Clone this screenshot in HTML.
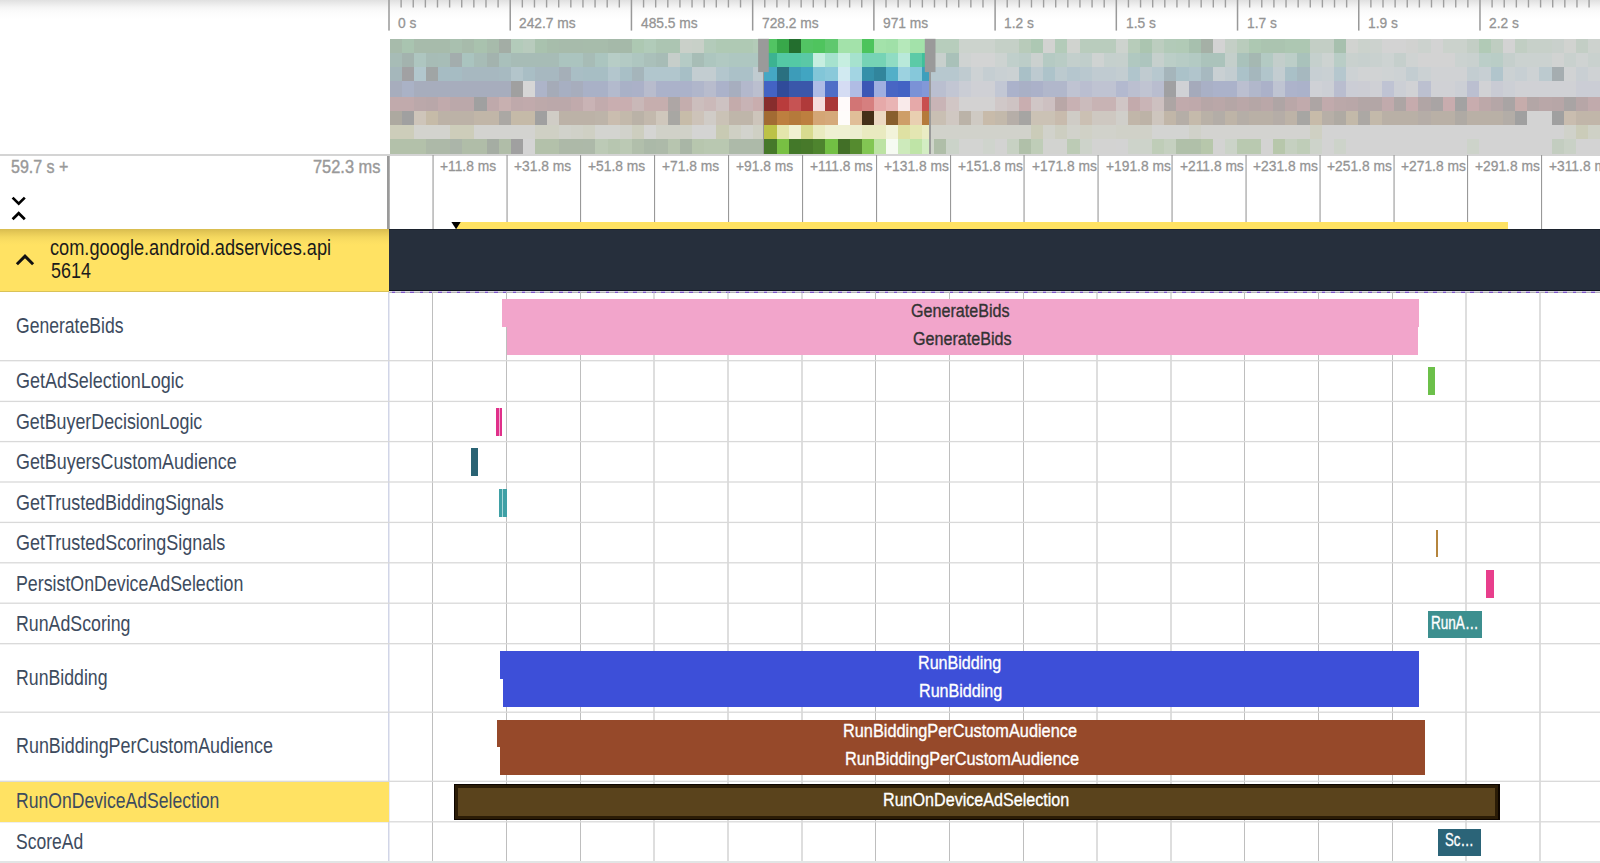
<!DOCTYPE html>
<html lang="en"><head><meta charset="utf-8"><title>Perfetto UI</title>
<style>
html,body{margin:0;padding:0;background:#fff;}
body{width:1600px;height:863px;overflow:hidden;position:relative;font-family:"Liberation Sans",sans-serif;}
.t{position:absolute;white-space:nowrap;transform-origin:0 0;}
.a{position:absolute;}
</style></head><body>

<div class="a" style="left:0;top:0;width:1600px;height:20px;background:linear-gradient(#e0e0e0 0,#ebebeb 3.75px,#f5f5f5 7.5px,#fafafa 11px,#fdfdfd 15px,#fff 20px);"></div>
<div class="a" id="overview-axis" style="left:0;top:0;width:1600px;height:39px;">
<svg class="a" style="left:0;top:0;" width="1600" height="39" viewBox="0 0 1600 39">
<rect x="388.25" y="0" width="1.5" height="30.6" fill="#999"/>
<rect x="400.42" y="0" width="1.4" height="7.5" fill="#9e9e9e"/>
<rect x="412.54" y="0" width="1.4" height="7.5" fill="#9e9e9e"/>
<rect x="424.67" y="0" width="1.4" height="7.5" fill="#9e9e9e"/>
<rect x="436.79" y="0" width="1.4" height="7.5" fill="#9e9e9e"/>
<rect x="448.91" y="0" width="1.4" height="7.5" fill="#9e9e9e"/>
<rect x="461.03" y="0" width="1.4" height="7.5" fill="#9e9e9e"/>
<rect x="473.15" y="0" width="1.4" height="7.5" fill="#9e9e9e"/>
<rect x="485.28" y="0" width="1.4" height="7.5" fill="#9e9e9e"/>
<rect x="497.40" y="0" width="1.4" height="7.5" fill="#9e9e9e"/>
<rect x="509.47" y="0" width="1.5" height="30.6" fill="#999"/>
<rect x="521.64" y="0" width="1.4" height="7.5" fill="#9e9e9e"/>
<rect x="533.76" y="0" width="1.4" height="7.5" fill="#9e9e9e"/>
<rect x="545.89" y="0" width="1.4" height="7.5" fill="#9e9e9e"/>
<rect x="558.01" y="0" width="1.4" height="7.5" fill="#9e9e9e"/>
<rect x="570.13" y="0" width="1.4" height="7.5" fill="#9e9e9e"/>
<rect x="582.25" y="0" width="1.4" height="7.5" fill="#9e9e9e"/>
<rect x="594.37" y="0" width="1.4" height="7.5" fill="#9e9e9e"/>
<rect x="606.50" y="0" width="1.4" height="7.5" fill="#9e9e9e"/>
<rect x="618.62" y="0" width="1.4" height="7.5" fill="#9e9e9e"/>
<rect x="630.69" y="0" width="1.5" height="30.6" fill="#999"/>
<rect x="642.86" y="0" width="1.4" height="7.5" fill="#9e9e9e"/>
<rect x="654.98" y="0" width="1.4" height="7.5" fill="#9e9e9e"/>
<rect x="667.11" y="0" width="1.4" height="7.5" fill="#9e9e9e"/>
<rect x="679.23" y="0" width="1.4" height="7.5" fill="#9e9e9e"/>
<rect x="691.35" y="0" width="1.4" height="7.5" fill="#9e9e9e"/>
<rect x="703.47" y="0" width="1.4" height="7.5" fill="#9e9e9e"/>
<rect x="715.59" y="0" width="1.4" height="7.5" fill="#9e9e9e"/>
<rect x="727.72" y="0" width="1.4" height="7.5" fill="#9e9e9e"/>
<rect x="739.84" y="0" width="1.4" height="7.5" fill="#9e9e9e"/>
<rect x="751.91" y="0" width="1.5" height="30.6" fill="#999"/>
<rect x="764.08" y="0" width="1.4" height="7.5" fill="#9e9e9e"/>
<rect x="776.20" y="0" width="1.4" height="7.5" fill="#9e9e9e"/>
<rect x="788.33" y="0" width="1.4" height="7.5" fill="#9e9e9e"/>
<rect x="800.45" y="0" width="1.4" height="7.5" fill="#9e9e9e"/>
<rect x="812.57" y="0" width="1.4" height="7.5" fill="#9e9e9e"/>
<rect x="824.69" y="0" width="1.4" height="7.5" fill="#9e9e9e"/>
<rect x="836.81" y="0" width="1.4" height="7.5" fill="#9e9e9e"/>
<rect x="848.94" y="0" width="1.4" height="7.5" fill="#9e9e9e"/>
<rect x="861.06" y="0" width="1.4" height="7.5" fill="#9e9e9e"/>
<rect x="873.13" y="0" width="1.5" height="30.6" fill="#999"/>
<rect x="885.30" y="0" width="1.4" height="7.5" fill="#9e9e9e"/>
<rect x="897.42" y="0" width="1.4" height="7.5" fill="#9e9e9e"/>
<rect x="909.55" y="0" width="1.4" height="7.5" fill="#9e9e9e"/>
<rect x="921.67" y="0" width="1.4" height="7.5" fill="#9e9e9e"/>
<rect x="933.79" y="0" width="1.4" height="7.5" fill="#9e9e9e"/>
<rect x="945.91" y="0" width="1.4" height="7.5" fill="#9e9e9e"/>
<rect x="958.03" y="0" width="1.4" height="7.5" fill="#9e9e9e"/>
<rect x="970.16" y="0" width="1.4" height="7.5" fill="#9e9e9e"/>
<rect x="982.28" y="0" width="1.4" height="7.5" fill="#9e9e9e"/>
<rect x="994.35" y="0" width="1.5" height="30.6" fill="#999"/>
<rect x="1006.52" y="0" width="1.4" height="7.5" fill="#9e9e9e"/>
<rect x="1018.64" y="0" width="1.4" height="7.5" fill="#9e9e9e"/>
<rect x="1030.77" y="0" width="1.4" height="7.5" fill="#9e9e9e"/>
<rect x="1042.89" y="0" width="1.4" height="7.5" fill="#9e9e9e"/>
<rect x="1055.01" y="0" width="1.4" height="7.5" fill="#9e9e9e"/>
<rect x="1067.13" y="0" width="1.4" height="7.5" fill="#9e9e9e"/>
<rect x="1079.25" y="0" width="1.4" height="7.5" fill="#9e9e9e"/>
<rect x="1091.38" y="0" width="1.4" height="7.5" fill="#9e9e9e"/>
<rect x="1103.50" y="0" width="1.4" height="7.5" fill="#9e9e9e"/>
<rect x="1115.57" y="0" width="1.5" height="30.6" fill="#999"/>
<rect x="1127.74" y="0" width="1.4" height="7.5" fill="#9e9e9e"/>
<rect x="1139.86" y="0" width="1.4" height="7.5" fill="#9e9e9e"/>
<rect x="1151.99" y="0" width="1.4" height="7.5" fill="#9e9e9e"/>
<rect x="1164.11" y="0" width="1.4" height="7.5" fill="#9e9e9e"/>
<rect x="1176.23" y="0" width="1.4" height="7.5" fill="#9e9e9e"/>
<rect x="1188.35" y="0" width="1.4" height="7.5" fill="#9e9e9e"/>
<rect x="1200.47" y="0" width="1.4" height="7.5" fill="#9e9e9e"/>
<rect x="1212.60" y="0" width="1.4" height="7.5" fill="#9e9e9e"/>
<rect x="1224.72" y="0" width="1.4" height="7.5" fill="#9e9e9e"/>
<rect x="1236.79" y="0" width="1.5" height="30.6" fill="#999"/>
<rect x="1248.96" y="0" width="1.4" height="7.5" fill="#9e9e9e"/>
<rect x="1261.08" y="0" width="1.4" height="7.5" fill="#9e9e9e"/>
<rect x="1273.21" y="0" width="1.4" height="7.5" fill="#9e9e9e"/>
<rect x="1285.33" y="0" width="1.4" height="7.5" fill="#9e9e9e"/>
<rect x="1297.45" y="0" width="1.4" height="7.5" fill="#9e9e9e"/>
<rect x="1309.57" y="0" width="1.4" height="7.5" fill="#9e9e9e"/>
<rect x="1321.69" y="0" width="1.4" height="7.5" fill="#9e9e9e"/>
<rect x="1333.82" y="0" width="1.4" height="7.5" fill="#9e9e9e"/>
<rect x="1345.94" y="0" width="1.4" height="7.5" fill="#9e9e9e"/>
<rect x="1358.01" y="0" width="1.5" height="30.6" fill="#999"/>
<rect x="1370.18" y="0" width="1.4" height="7.5" fill="#9e9e9e"/>
<rect x="1382.30" y="0" width="1.4" height="7.5" fill="#9e9e9e"/>
<rect x="1394.43" y="0" width="1.4" height="7.5" fill="#9e9e9e"/>
<rect x="1406.55" y="0" width="1.4" height="7.5" fill="#9e9e9e"/>
<rect x="1418.67" y="0" width="1.4" height="7.5" fill="#9e9e9e"/>
<rect x="1430.79" y="0" width="1.4" height="7.5" fill="#9e9e9e"/>
<rect x="1442.91" y="0" width="1.4" height="7.5" fill="#9e9e9e"/>
<rect x="1455.04" y="0" width="1.4" height="7.5" fill="#9e9e9e"/>
<rect x="1467.16" y="0" width="1.4" height="7.5" fill="#9e9e9e"/>
<rect x="1479.23" y="0" width="1.5" height="30.6" fill="#999"/>
<rect x="1491.40" y="0" width="1.4" height="7.5" fill="#9e9e9e"/>
<rect x="1503.52" y="0" width="1.4" height="7.5" fill="#9e9e9e"/>
<rect x="1515.65" y="0" width="1.4" height="7.5" fill="#9e9e9e"/>
<rect x="1527.77" y="0" width="1.4" height="7.5" fill="#9e9e9e"/>
<rect x="1539.89" y="0" width="1.4" height="7.5" fill="#9e9e9e"/>
<rect x="1552.01" y="0" width="1.4" height="7.5" fill="#9e9e9e"/>
<rect x="1564.13" y="0" width="1.4" height="7.5" fill="#9e9e9e"/>
<rect x="1576.26" y="0" width="1.4" height="7.5" fill="#9e9e9e"/>
<rect x="1588.38" y="0" width="1.4" height="7.5" fill="#9e9e9e"/>
</svg>
<div class="t" style="left:398.20px;top:15.02px;font-size:15.22px;line-height:15.22px;color:#949494;transform:scaleX(0.9050);-webkit-text-stroke:0.3px #949494;">0 s</div>
<div class="t" style="left:519.42px;top:15.02px;font-size:15.22px;line-height:15.22px;color:#949494;transform:scaleX(0.9050);-webkit-text-stroke:0.3px #949494;">242.7 ms</div>
<div class="t" style="left:640.64px;top:15.02px;font-size:15.22px;line-height:15.22px;color:#949494;transform:scaleX(0.9050);-webkit-text-stroke:0.3px #949494;">485.5 ms</div>
<div class="t" style="left:761.86px;top:15.02px;font-size:15.22px;line-height:15.22px;color:#949494;transform:scaleX(0.9050);-webkit-text-stroke:0.3px #949494;">728.2 ms</div>
<div class="t" style="left:883.08px;top:15.02px;font-size:15.22px;line-height:15.22px;color:#949494;transform:scaleX(0.9050);-webkit-text-stroke:0.3px #949494;">971 ms</div>
<div class="t" style="left:1004.30px;top:15.02px;font-size:15.22px;line-height:15.22px;color:#949494;transform:scaleX(0.9050);-webkit-text-stroke:0.3px #949494;">1.2 s</div>
<div class="t" style="left:1125.52px;top:15.02px;font-size:15.22px;line-height:15.22px;color:#949494;transform:scaleX(0.9050);-webkit-text-stroke:0.3px #949494;">1.5 s</div>
<div class="t" style="left:1246.74px;top:15.02px;font-size:15.22px;line-height:15.22px;color:#949494;transform:scaleX(0.9050);-webkit-text-stroke:0.3px #949494;">1.7 s</div>
<div class="t" style="left:1367.96px;top:15.02px;font-size:15.22px;line-height:15.22px;color:#949494;transform:scaleX(0.9050);-webkit-text-stroke:0.3px #949494;">1.9 s</div>
<div class="t" style="left:1489.18px;top:15.02px;font-size:15.22px;line-height:15.22px;color:#949494;transform:scaleX(0.9050);-webkit-text-stroke:0.3px #949494;">2.2 s</div>
</div>
<svg class="a" id="minimap" style="left:0;top:0;" width="1600" height="160" viewBox="0 0 1600 160" shape-rendering="crispEdges">
<rect x="389.70" y="38.8" width="12.15" height="14.25" fill="#a7bbab"/>
<rect x="401.80" y="38.8" width="12.15" height="14.25" fill="#a9c4b0"/>
<rect x="413.91" y="38.8" width="36.36" height="14.25" fill="#a7bbab"/>
<rect x="450.21" y="38.8" width="12.15" height="14.25" fill="#a9c0af"/>
<rect x="462.32" y="38.8" width="12.15" height="14.25" fill="#a7bbab"/>
<rect x="474.42" y="38.8" width="12.15" height="14.25" fill="#a9c2ae"/>
<rect x="486.52" y="38.8" width="12.15" height="14.25" fill="#a7bbab"/>
<rect x="498.63" y="38.8" width="12.15" height="14.25" fill="#a3ada5"/>
<rect x="510.73" y="38.8" width="12.15" height="14.25" fill="#b3cbba"/>
<rect x="522.83" y="38.8" width="12.15" height="14.25" fill="#b8cbbd"/>
<rect x="534.94" y="38.8" width="12.15" height="14.25" fill="#a9c2ae"/>
<rect x="547.04" y="38.8" width="12.15" height="14.25" fill="#a7bdab"/>
<rect x="559.14" y="38.8" width="24.26" height="14.25" fill="#a7bbab"/>
<rect x="583.35" y="38.8" width="24.26" height="14.25" fill="#a7bcab"/>
<rect x="607.55" y="38.8" width="24.26" height="14.25" fill="#a5b9a9"/>
<rect x="631.76" y="38.8" width="12.15" height="14.25" fill="#adc8b2"/>
<rect x="643.86" y="38.8" width="12.15" height="14.25" fill="#b1cbb9"/>
<rect x="655.97" y="38.8" width="24.26" height="14.25" fill="#acc5b2"/>
<rect x="680.17" y="38.8" width="12.15" height="14.25" fill="#cad0c9"/>
<rect x="692.27" y="38.8" width="12.15" height="14.25" fill="#c8d0c8"/>
<rect x="704.38" y="38.8" width="12.15" height="14.25" fill="#b3cbba"/>
<rect x="716.48" y="38.8" width="36.36" height="14.25" fill="#afc9b4"/>
<rect x="752.79" y="38.8" width="11.26" height="14.25" fill="#b3cbb8"/>
<rect x="764.00" y="38.8" width="13.05" height="14.25" fill="#52c463"/>
<rect x="777.00" y="38.8" width="12.15" height="14.25" fill="#38a84a"/>
<rect x="789.10" y="38.8" width="12.15" height="14.25" fill="#236e2e"/>
<rect x="801.20" y="38.8" width="12.15" height="14.25" fill="#52c463"/>
<rect x="813.31" y="38.8" width="12.15" height="14.25" fill="#4fc45e"/>
<rect x="825.41" y="38.8" width="12.15" height="14.25" fill="#5fc86e"/>
<rect x="837.51" y="38.8" width="24.26" height="14.25" fill="#a3e2aa"/>
<rect x="861.72" y="38.8" width="12.15" height="14.25" fill="#4cc45c"/>
<rect x="873.82" y="38.8" width="12.15" height="14.25" fill="#a3e2aa"/>
<rect x="885.92" y="38.8" width="12.15" height="14.25" fill="#a0e0a8"/>
<rect x="898.03" y="38.8" width="12.15" height="14.25" fill="#b5e8ba"/>
<rect x="910.13" y="38.8" width="20.12" height="14.25" fill="#a3e2aa"/>
<rect x="930.20" y="38.8" width="28.39" height="14.25" fill="#b7cdbc"/>
<rect x="958.54" y="38.8" width="36.36" height="14.25" fill="#ccd3cd"/>
<rect x="994.85" y="38.8" width="24.26" height="14.25" fill="#c5d0c7"/>
<rect x="1019.06" y="38.8" width="12.15" height="14.25" fill="#b8cbba"/>
<rect x="1031.16" y="38.8" width="12.15" height="14.25" fill="#adc8b3"/>
<rect x="1043.26" y="38.8" width="12.15" height="14.25" fill="#d2d3d1"/>
<rect x="1055.37" y="38.8" width="12.15" height="14.25" fill="#b3cbb9"/>
<rect x="1067.47" y="38.8" width="12.15" height="14.25" fill="#d0d3cf"/>
<rect x="1079.57" y="38.8" width="36.36" height="14.25" fill="#b9ccbd"/>
<rect x="1115.88" y="38.8" width="12.15" height="14.25" fill="#cdd3ce"/>
<rect x="1127.98" y="38.8" width="12.15" height="14.25" fill="#b7ccba"/>
<rect x="1140.09" y="38.8" width="12.15" height="14.25" fill="#abc5b0"/>
<rect x="1152.19" y="38.8" width="12.15" height="14.25" fill="#bccdbf"/>
<rect x="1164.29" y="38.8" width="12.15" height="14.25" fill="#b2cab8"/>
<rect x="1176.39" y="38.8" width="12.15" height="14.25" fill="#b1cab6"/>
<rect x="1188.50" y="38.8" width="12.15" height="14.25" fill="#a7c0ae"/>
<rect x="1200.60" y="38.8" width="12.15" height="14.25" fill="#a5b0a6"/>
<rect x="1212.70" y="38.8" width="12.15" height="14.25" fill="#d3d3d3"/>
<rect x="1224.81" y="38.8" width="12.15" height="14.25" fill="#c4cfc6"/>
<rect x="1236.91" y="38.8" width="12.15" height="14.25" fill="#b9ccbc"/>
<rect x="1249.01" y="38.8" width="12.15" height="14.25" fill="#adc8b2"/>
<rect x="1261.12" y="38.8" width="24.26" height="14.25" fill="#abc4b0"/>
<rect x="1285.32" y="38.8" width="24.26" height="14.25" fill="#adc7b2"/>
<rect x="1309.53" y="38.8" width="24.26" height="14.25" fill="#c3cec5"/>
<rect x="1333.73" y="38.8" width="12.15" height="14.25" fill="#a7c0ae"/>
<rect x="1345.84" y="38.8" width="12.15" height="14.25" fill="#d1d3d0"/>
<rect x="1357.94" y="38.8" width="12.15" height="14.25" fill="#cbd2cc"/>
<rect x="1370.04" y="38.8" width="12.15" height="14.25" fill="#ccd2ce"/>
<rect x="1382.15" y="38.8" width="24.26" height="14.25" fill="#d3d3d3"/>
<rect x="1406.35" y="38.8" width="12.15" height="14.25" fill="#d1d2d0"/>
<rect x="1418.45" y="38.8" width="12.15" height="14.25" fill="#ccd2ce"/>
<rect x="1430.56" y="38.8" width="12.15" height="14.25" fill="#d3d3d3"/>
<rect x="1442.66" y="38.8" width="24.26" height="14.25" fill="#cbd2cc"/>
<rect x="1466.87" y="38.8" width="12.15" height="14.25" fill="#c3cec5"/>
<rect x="1478.97" y="38.8" width="12.15" height="14.25" fill="#b1cab6"/>
<rect x="1491.07" y="38.8" width="12.15" height="14.25" fill="#bfcdc1"/>
<rect x="1503.18" y="38.8" width="12.15" height="14.25" fill="#d3d3d3"/>
<rect x="1515.28" y="38.8" width="12.15" height="14.25" fill="#c1cec3"/>
<rect x="1527.38" y="38.8" width="24.26" height="14.25" fill="#c7d0c9"/>
<rect x="1551.59" y="38.8" width="12.15" height="14.25" fill="#c9d0cc"/>
<rect x="1563.69" y="38.8" width="12.15" height="14.25" fill="#d1d3d0"/>
<rect x="1575.79" y="38.8" width="12.15" height="14.25" fill="#c3cec5"/>
<rect x="1587.90" y="38.8" width="12.15" height="14.25" fill="#cdd2ce"/>
<rect x="389.70" y="53.0" width="12.15" height="13.95" fill="#a7bcb6"/>
<rect x="401.80" y="53.0" width="12.15" height="13.95" fill="#a3b3ae"/>
<rect x="413.91" y="53.0" width="12.15" height="13.95" fill="#aec6c0"/>
<rect x="426.01" y="53.0" width="12.15" height="13.95" fill="#a7bcb6"/>
<rect x="438.11" y="53.0" width="12.15" height="13.95" fill="#a7bdb7"/>
<rect x="450.21" y="53.0" width="12.15" height="13.95" fill="#a3adad"/>
<rect x="462.32" y="53.0" width="12.15" height="13.95" fill="#aac4bf"/>
<rect x="474.42" y="53.0" width="12.15" height="13.95" fill="#a7bcb6"/>
<rect x="486.52" y="53.0" width="12.15" height="13.95" fill="#a3b3ae"/>
<rect x="498.63" y="53.0" width="12.15" height="13.95" fill="#a9c0bb"/>
<rect x="510.73" y="53.0" width="48.46" height="13.95" fill="#a7bcb6"/>
<rect x="559.14" y="53.0" width="24.26" height="13.95" fill="#abc4bf"/>
<rect x="583.35" y="53.0" width="12.15" height="13.95" fill="#a7bcb6"/>
<rect x="595.45" y="53.0" width="12.15" height="13.95" fill="#abc5bf"/>
<rect x="607.55" y="53.0" width="12.15" height="13.95" fill="#b7cdc6"/>
<rect x="619.66" y="53.0" width="12.15" height="13.95" fill="#b3cac4"/>
<rect x="631.76" y="53.0" width="12.15" height="13.95" fill="#aec6c0"/>
<rect x="643.86" y="53.0" width="12.15" height="13.95" fill="#aac0ba"/>
<rect x="655.97" y="53.0" width="12.15" height="13.95" fill="#a7bcb6"/>
<rect x="668.07" y="53.0" width="12.15" height="13.95" fill="#c6ceca"/>
<rect x="680.17" y="53.0" width="12.15" height="13.95" fill="#b5cbc5"/>
<rect x="692.27" y="53.0" width="12.15" height="13.95" fill="#a7bdb6"/>
<rect x="704.38" y="53.0" width="12.15" height="13.95" fill="#adc6bf"/>
<rect x="716.48" y="53.0" width="12.15" height="13.95" fill="#b1c9c2"/>
<rect x="728.58" y="53.0" width="35.47" height="13.95" fill="#aec7c1"/>
<rect x="764.00" y="53.0" width="13.05" height="13.95" fill="#3cb391"/>
<rect x="777.00" y="53.0" width="24.26" height="13.95" fill="#54c9a5"/>
<rect x="801.20" y="53.0" width="12.15" height="13.95" fill="#5ac8a6"/>
<rect x="813.31" y="53.0" width="12.15" height="13.95" fill="#c6eee0"/>
<rect x="825.41" y="53.0" width="12.15" height="13.95" fill="#a6e2ce"/>
<rect x="837.51" y="53.0" width="12.15" height="13.95" fill="#c6eee0"/>
<rect x="849.61" y="53.0" width="12.15" height="13.95" fill="#a6e2ce"/>
<rect x="861.72" y="53.0" width="24.26" height="13.95" fill="#76d3b5"/>
<rect x="885.92" y="53.0" width="12.15" height="13.95" fill="#90dcc3"/>
<rect x="898.03" y="53.0" width="12.15" height="13.95" fill="#b9e9da"/>
<rect x="910.13" y="53.0" width="12.15" height="13.95" fill="#5ccaa7"/>
<rect x="922.23" y="53.0" width="8.02" height="13.95" fill="#3fc09a"/>
<rect x="930.20" y="53.0" width="16.29" height="13.95" fill="#c8d0cd"/>
<rect x="946.44" y="53.0" width="12.15" height="13.95" fill="#a9c1b9"/>
<rect x="958.54" y="53.0" width="12.15" height="13.95" fill="#cfd3d2"/>
<rect x="970.64" y="53.0" width="24.26" height="13.95" fill="#d3d4d4"/>
<rect x="994.85" y="53.0" width="12.15" height="13.95" fill="#cdd3d1"/>
<rect x="1006.95" y="53.0" width="12.15" height="13.95" fill="#c0cfcb"/>
<rect x="1019.06" y="53.0" width="12.15" height="13.95" fill="#bccdc8"/>
<rect x="1031.16" y="53.0" width="12.15" height="13.95" fill="#cbd1cf"/>
<rect x="1043.26" y="53.0" width="12.15" height="13.95" fill="#b5cac3"/>
<rect x="1055.37" y="53.0" width="12.15" height="13.95" fill="#b9ccc5"/>
<rect x="1067.47" y="53.0" width="12.15" height="13.95" fill="#c3cfcc"/>
<rect x="1079.57" y="53.0" width="12.15" height="13.95" fill="#c0cecb"/>
<rect x="1091.67" y="53.0" width="12.15" height="13.95" fill="#cfd3d2"/>
<rect x="1103.78" y="53.0" width="12.15" height="13.95" fill="#c5d0cd"/>
<rect x="1115.88" y="53.0" width="12.15" height="13.95" fill="#c6d0cd"/>
<rect x="1127.98" y="53.0" width="12.15" height="13.95" fill="#b0c8c0"/>
<rect x="1140.09" y="53.0" width="12.15" height="13.95" fill="#adc5be"/>
<rect x="1152.19" y="53.0" width="12.15" height="13.95" fill="#c6d0cd"/>
<rect x="1164.29" y="53.0" width="12.15" height="13.95" fill="#bbcec7"/>
<rect x="1176.39" y="53.0" width="12.15" height="13.95" fill="#b7ccc5"/>
<rect x="1188.50" y="53.0" width="12.15" height="13.95" fill="#b3cac3"/>
<rect x="1200.60" y="53.0" width="24.26" height="13.95" fill="#abc3bb"/>
<rect x="1224.81" y="53.0" width="12.15" height="13.95" fill="#c4cfcb"/>
<rect x="1236.91" y="53.0" width="12.15" height="13.95" fill="#a9c2bb"/>
<rect x="1249.01" y="53.0" width="12.15" height="13.95" fill="#a5b8b2"/>
<rect x="1261.12" y="53.0" width="12.15" height="13.95" fill="#b3cac3"/>
<rect x="1273.22" y="53.0" width="12.15" height="13.95" fill="#c3cecb"/>
<rect x="1285.32" y="53.0" width="12.15" height="13.95" fill="#bccec8"/>
<rect x="1297.42" y="53.0" width="12.15" height="13.95" fill="#a9c2bb"/>
<rect x="1309.53" y="53.0" width="12.15" height="13.95" fill="#c5d0cd"/>
<rect x="1321.63" y="53.0" width="12.15" height="13.95" fill="#cdd3d1"/>
<rect x="1333.73" y="53.0" width="12.15" height="13.95" fill="#b9cdc6"/>
<rect x="1345.84" y="53.0" width="12.15" height="13.95" fill="#c9d1ce"/>
<rect x="1357.94" y="53.0" width="12.15" height="13.95" fill="#c7d0ce"/>
<rect x="1370.04" y="53.0" width="12.15" height="13.95" fill="#c9d1cf"/>
<rect x="1382.15" y="53.0" width="12.15" height="13.95" fill="#cdd3d2"/>
<rect x="1394.25" y="53.0" width="12.15" height="13.95" fill="#c5cfcc"/>
<rect x="1406.35" y="53.0" width="12.15" height="13.95" fill="#cfd3d2"/>
<rect x="1418.45" y="53.0" width="36.36" height="13.95" fill="#d3d3d3"/>
<rect x="1454.76" y="53.0" width="12.15" height="13.95" fill="#cbd2d0"/>
<rect x="1466.87" y="53.0" width="12.15" height="13.95" fill="#c9d1cf"/>
<rect x="1478.97" y="53.0" width="12.15" height="13.95" fill="#bbcec8"/>
<rect x="1491.07" y="53.0" width="12.15" height="13.95" fill="#b9cdc6"/>
<rect x="1503.18" y="53.0" width="12.15" height="13.95" fill="#c5cfcc"/>
<rect x="1515.28" y="53.0" width="36.36" height="13.95" fill="#cbd2d0"/>
<rect x="1551.59" y="53.0" width="12.15" height="13.95" fill="#d1d3d2"/>
<rect x="1563.69" y="53.0" width="12.15" height="13.95" fill="#c9d1ce"/>
<rect x="1575.79" y="53.0" width="12.15" height="13.95" fill="#cfd3d2"/>
<rect x="1587.90" y="53.0" width="12.15" height="13.95" fill="#c9d1ce"/>
<rect x="389.70" y="66.9" width="12.15" height="14.35" fill="#a5b7bb"/>
<rect x="401.80" y="66.9" width="12.15" height="14.35" fill="#a1a1a3"/>
<rect x="413.91" y="66.9" width="12.15" height="14.35" fill="#b2c7cd"/>
<rect x="426.01" y="66.9" width="12.15" height="14.35" fill="#a0a5a5"/>
<rect x="438.11" y="66.9" width="24.26" height="14.35" fill="#a6bcc3"/>
<rect x="462.32" y="66.9" width="36.36" height="14.35" fill="#a7b8c0"/>
<rect x="498.63" y="66.9" width="12.15" height="14.35" fill="#a7bac1"/>
<rect x="510.73" y="66.9" width="12.15" height="14.35" fill="#b3c5cb"/>
<rect x="522.83" y="66.9" width="12.15" height="14.35" fill="#a9bec5"/>
<rect x="534.94" y="66.9" width="24.26" height="14.35" fill="#a7b8c0"/>
<rect x="559.14" y="66.9" width="12.15" height="14.35" fill="#a5afb8"/>
<rect x="571.25" y="66.9" width="12.15" height="14.35" fill="#a9bec5"/>
<rect x="583.35" y="66.9" width="24.26" height="14.35" fill="#a7bec4"/>
<rect x="607.55" y="66.9" width="12.15" height="14.35" fill="#b3c6cd"/>
<rect x="619.66" y="66.9" width="12.15" height="14.35" fill="#a8bfc6"/>
<rect x="631.76" y="66.9" width="12.15" height="14.35" fill="#a5b5bb"/>
<rect x="643.86" y="66.9" width="36.36" height="14.35" fill="#b1c6cd"/>
<rect x="680.17" y="66.9" width="12.15" height="14.35" fill="#a7bfc6"/>
<rect x="692.27" y="66.9" width="24.26" height="14.35" fill="#c3cdd1"/>
<rect x="716.48" y="66.9" width="12.15" height="14.35" fill="#b3c6cd"/>
<rect x="728.58" y="66.9" width="24.26" height="14.35" fill="#abc1c8"/>
<rect x="752.79" y="66.9" width="11.26" height="14.35" fill="#c0cbd0"/>
<rect x="764.00" y="66.9" width="13.05" height="14.35" fill="#45a7c4"/>
<rect x="777.00" y="66.9" width="12.15" height="14.35" fill="#2a7080"/>
<rect x="789.10" y="66.9" width="12.15" height="14.35" fill="#3d9cb9"/>
<rect x="801.20" y="66.9" width="12.15" height="14.35" fill="#41a5c2"/>
<rect x="813.31" y="66.9" width="12.15" height="14.35" fill="#82c6d8"/>
<rect x="825.41" y="66.9" width="12.15" height="14.35" fill="#8ac9da"/>
<rect x="837.51" y="66.9" width="12.15" height="14.35" fill="#d1eaf1"/>
<rect x="849.61" y="66.9" width="12.15" height="14.35" fill="#a3d5e3"/>
<rect x="861.72" y="66.9" width="12.15" height="14.35" fill="#3590a9"/>
<rect x="873.82" y="66.9" width="12.15" height="14.35" fill="#31859c"/>
<rect x="885.92" y="66.9" width="12.15" height="14.35" fill="#52afc8"/>
<rect x="898.03" y="66.9" width="12.15" height="14.35" fill="#9cd2e0"/>
<rect x="910.13" y="66.9" width="12.15" height="14.35" fill="#86c8da"/>
<rect x="922.23" y="66.9" width="8.02" height="14.35" fill="#3e9fbc"/>
<rect x="930.20" y="66.9" width="28.39" height="14.35" fill="#b7c8cf"/>
<rect x="958.54" y="66.9" width="12.15" height="14.35" fill="#bfcbd0"/>
<rect x="970.64" y="66.9" width="12.15" height="14.35" fill="#cdd2d4"/>
<rect x="982.75" y="66.9" width="12.15" height="14.35" fill="#c5ced2"/>
<rect x="994.85" y="66.9" width="12.15" height="14.35" fill="#c9d0d3"/>
<rect x="1006.95" y="66.9" width="12.15" height="14.35" fill="#cbd1d3"/>
<rect x="1019.06" y="66.9" width="12.15" height="14.35" fill="#a9c0c7"/>
<rect x="1031.16" y="66.9" width="12.15" height="14.35" fill="#bdcad0"/>
<rect x="1043.26" y="66.9" width="12.15" height="14.35" fill="#adc3ca"/>
<rect x="1055.37" y="66.9" width="12.15" height="14.35" fill="#bccacf"/>
<rect x="1067.47" y="66.9" width="12.15" height="14.35" fill="#b5c6ce"/>
<rect x="1079.57" y="66.9" width="12.15" height="14.35" fill="#b9c8cf"/>
<rect x="1091.67" y="66.9" width="24.26" height="14.35" fill="#c0cbd1"/>
<rect x="1115.88" y="66.9" width="12.15" height="14.35" fill="#c3cdd1"/>
<rect x="1127.98" y="66.9" width="12.15" height="14.35" fill="#b0c5cc"/>
<rect x="1140.09" y="66.9" width="12.15" height="14.35" fill="#c0cbd0"/>
<rect x="1152.19" y="66.9" width="12.15" height="14.35" fill="#b7c8cf"/>
<rect x="1164.29" y="66.9" width="12.15" height="14.35" fill="#a5b5bb"/>
<rect x="1176.39" y="66.9" width="12.15" height="14.35" fill="#abc2c9"/>
<rect x="1188.50" y="66.9" width="12.15" height="14.35" fill="#b1c5cc"/>
<rect x="1200.60" y="66.9" width="12.15" height="14.35" fill="#a7b9c0"/>
<rect x="1212.70" y="66.9" width="12.15" height="14.35" fill="#c9d0d3"/>
<rect x="1224.81" y="66.9" width="12.15" height="14.35" fill="#c3cdd1"/>
<rect x="1236.91" y="66.9" width="12.15" height="14.35" fill="#abc2c9"/>
<rect x="1249.01" y="66.9" width="12.15" height="14.35" fill="#a5b7bd"/>
<rect x="1261.12" y="66.9" width="12.15" height="14.35" fill="#b1c5cb"/>
<rect x="1273.22" y="66.9" width="12.15" height="14.35" fill="#c3cdd1"/>
<rect x="1285.32" y="66.9" width="12.15" height="14.35" fill="#a9c0c7"/>
<rect x="1297.42" y="66.9" width="12.15" height="14.35" fill="#a6b8bf"/>
<rect x="1309.53" y="66.9" width="12.15" height="14.35" fill="#c7cfd3"/>
<rect x="1321.63" y="66.9" width="12.15" height="14.35" fill="#c9d0d3"/>
<rect x="1333.73" y="66.9" width="12.15" height="14.35" fill="#b5c7ce"/>
<rect x="1345.84" y="66.9" width="12.15" height="14.35" fill="#cdd2d4"/>
<rect x="1357.94" y="66.9" width="24.26" height="14.35" fill="#d1d3d4"/>
<rect x="1382.15" y="66.9" width="12.15" height="14.35" fill="#cfd3d4"/>
<rect x="1394.25" y="66.9" width="12.15" height="14.35" fill="#cdd2d4"/>
<rect x="1406.35" y="66.9" width="12.15" height="14.35" fill="#c3cdd1"/>
<rect x="1418.45" y="66.9" width="12.15" height="14.35" fill="#cbd1d3"/>
<rect x="1430.56" y="66.9" width="36.36" height="14.35" fill="#d0d2d4"/>
<rect x="1466.87" y="66.9" width="12.15" height="14.35" fill="#c3cdd1"/>
<rect x="1478.97" y="66.9" width="12.15" height="14.35" fill="#c7cfd3"/>
<rect x="1491.07" y="66.9" width="12.15" height="14.35" fill="#b1c5cc"/>
<rect x="1503.18" y="66.9" width="12.15" height="14.35" fill="#cbd1d3"/>
<rect x="1515.28" y="66.9" width="12.15" height="14.35" fill="#c7cfd3"/>
<rect x="1527.38" y="66.9" width="12.15" height="14.35" fill="#cdd2d4"/>
<rect x="1539.49" y="66.9" width="12.15" height="14.35" fill="#bccacf"/>
<rect x="1551.59" y="66.9" width="12.15" height="14.35" fill="#a5adb0"/>
<rect x="1563.69" y="66.9" width="12.15" height="14.35" fill="#d1d3d4"/>
<rect x="1575.79" y="66.9" width="12.15" height="14.35" fill="#c9cfd3"/>
<rect x="1587.90" y="66.9" width="12.15" height="14.35" fill="#cfd2d4"/>
<rect x="389.70" y="81.2" width="12.15" height="15.65" fill="#a7adbd"/>
<rect x="401.80" y="81.2" width="12.15" height="15.65" fill="#aab2c6"/>
<rect x="413.91" y="81.2" width="96.87" height="15.65" fill="#a7adbd"/>
<rect x="510.73" y="81.2" width="12.15" height="15.65" fill="#a0a0a0"/>
<rect x="522.83" y="81.2" width="12.15" height="15.65" fill="#d6d6d6"/>
<rect x="534.94" y="81.2" width="12.15" height="15.65" fill="#adb4c9"/>
<rect x="547.04" y="81.2" width="12.15" height="15.65" fill="#a5abb8"/>
<rect x="559.14" y="81.2" width="12.15" height="15.65" fill="#a7afc2"/>
<rect x="571.25" y="81.2" width="12.15" height="15.65" fill="#a7adbd"/>
<rect x="583.35" y="81.2" width="24.26" height="15.65" fill="#a9b1c7"/>
<rect x="607.55" y="81.2" width="12.15" height="15.65" fill="#b3bacd"/>
<rect x="619.66" y="81.2" width="12.15" height="15.65" fill="#a9b1c7"/>
<rect x="631.76" y="81.2" width="12.15" height="15.65" fill="#abb1c8"/>
<rect x="643.86" y="81.2" width="12.15" height="15.65" fill="#b8bccd"/>
<rect x="655.97" y="81.2" width="36.36" height="15.65" fill="#abb2ca"/>
<rect x="692.27" y="81.2" width="12.15" height="15.65" fill="#b0b6cb"/>
<rect x="704.38" y="81.2" width="12.15" height="15.65" fill="#b8bccd"/>
<rect x="716.48" y="81.2" width="12.15" height="15.65" fill="#abb2ca"/>
<rect x="728.58" y="81.2" width="12.15" height="15.65" fill="#a7aebf"/>
<rect x="740.69" y="81.2" width="12.15" height="15.65" fill="#b3b8cc"/>
<rect x="752.79" y="81.2" width="11.26" height="15.65" fill="#bbbfcf"/>
<rect x="764.00" y="81.2" width="13.05" height="15.65" fill="#4363c4"/>
<rect x="777.00" y="81.2" width="12.15" height="15.65" fill="#304b9a"/>
<rect x="789.10" y="81.2" width="24.26" height="15.65" fill="#3a57aa"/>
<rect x="813.31" y="81.2" width="12.15" height="15.65" fill="#aebce6"/>
<rect x="825.41" y="81.2" width="12.15" height="15.65" fill="#4f6ec7"/>
<rect x="837.51" y="81.2" width="12.15" height="15.65" fill="#d5dcf3"/>
<rect x="849.61" y="81.2" width="12.15" height="15.65" fill="#b0bce4"/>
<rect x="861.72" y="81.2" width="12.15" height="15.65" fill="#3b57b5"/>
<rect x="873.82" y="81.2" width="12.15" height="15.65" fill="#9fafe0"/>
<rect x="885.92" y="81.2" width="12.15" height="15.65" fill="#4866c4"/>
<rect x="898.03" y="81.2" width="12.15" height="15.65" fill="#4363c4"/>
<rect x="910.13" y="81.2" width="12.15" height="15.65" fill="#7b92d6"/>
<rect x="922.23" y="81.2" width="8.02" height="15.65" fill="#8298d8"/>
<rect x="930.20" y="81.2" width="16.29" height="15.65" fill="#babfd0"/>
<rect x="946.44" y="81.2" width="12.15" height="15.65" fill="#c2c6d3"/>
<rect x="958.54" y="81.2" width="12.15" height="15.65" fill="#cacdd5"/>
<rect x="970.64" y="81.2" width="24.26" height="15.65" fill="#cfd0d5"/>
<rect x="994.85" y="81.2" width="12.15" height="15.65" fill="#c2c7d4"/>
<rect x="1006.95" y="81.2" width="12.15" height="15.65" fill="#abb2cb"/>
<rect x="1019.06" y="81.2" width="12.15" height="15.65" fill="#a9b0c6"/>
<rect x="1031.16" y="81.2" width="12.15" height="15.65" fill="#abb1c9"/>
<rect x="1043.26" y="81.2" width="24.26" height="15.65" fill="#b1b7cb"/>
<rect x="1067.47" y="81.2" width="12.15" height="15.65" fill="#bfc3d2"/>
<rect x="1079.57" y="81.2" width="12.15" height="15.65" fill="#babed0"/>
<rect x="1091.67" y="81.2" width="24.26" height="15.65" fill="#bfc3d2"/>
<rect x="1115.88" y="81.2" width="12.15" height="15.65" fill="#b3b9cf"/>
<rect x="1127.98" y="81.2" width="12.15" height="15.65" fill="#bbbfd0"/>
<rect x="1140.09" y="81.2" width="12.15" height="15.65" fill="#c0c4d2"/>
<rect x="1152.19" y="81.2" width="12.15" height="15.65" fill="#b9bdcf"/>
<rect x="1164.29" y="81.2" width="12.15" height="15.65" fill="#a0a0a2"/>
<rect x="1176.39" y="81.2" width="12.15" height="15.65" fill="#d0d1d5"/>
<rect x="1188.50" y="81.2" width="12.15" height="15.65" fill="#a5aabb"/>
<rect x="1200.60" y="81.2" width="12.15" height="15.65" fill="#a9b0c6"/>
<rect x="1212.70" y="81.2" width="24.26" height="15.65" fill="#abb2ca"/>
<rect x="1236.91" y="81.2" width="12.15" height="15.65" fill="#bbbfd0"/>
<rect x="1249.01" y="81.2" width="12.15" height="15.65" fill="#b1b7cb"/>
<rect x="1261.12" y="81.2" width="12.15" height="15.65" fill="#abb1c9"/>
<rect x="1273.22" y="81.2" width="12.15" height="15.65" fill="#bfc4d2"/>
<rect x="1285.32" y="81.2" width="12.15" height="15.65" fill="#adb3cb"/>
<rect x="1297.42" y="81.2" width="12.15" height="15.65" fill="#abb2ca"/>
<rect x="1309.53" y="81.2" width="12.15" height="15.65" fill="#cfd1d6"/>
<rect x="1321.63" y="81.2" width="12.15" height="15.65" fill="#cccfd5"/>
<rect x="1333.73" y="81.2" width="12.15" height="15.65" fill="#b9bdcf"/>
<rect x="1345.84" y="81.2" width="12.15" height="15.65" fill="#cbcdd5"/>
<rect x="1357.94" y="81.2" width="12.15" height="15.65" fill="#cccdd4"/>
<rect x="1370.04" y="81.2" width="12.15" height="15.65" fill="#cfd0d5"/>
<rect x="1382.15" y="81.2" width="12.15" height="15.65" fill="#bfc3d3"/>
<rect x="1394.25" y="81.2" width="12.15" height="15.65" fill="#cccfd5"/>
<rect x="1406.35" y="81.2" width="12.15" height="15.65" fill="#d1d2d5"/>
<rect x="1418.45" y="81.2" width="12.15" height="15.65" fill="#bcc0d0"/>
<rect x="1430.56" y="81.2" width="24.26" height="15.65" fill="#d0d1d5"/>
<rect x="1454.76" y="81.2" width="12.15" height="15.65" fill="#cccfd5"/>
<rect x="1466.87" y="81.2" width="12.15" height="15.65" fill="#bbbfd0"/>
<rect x="1478.97" y="81.2" width="12.15" height="15.65" fill="#d1d2d5"/>
<rect x="1491.07" y="81.2" width="12.15" height="15.65" fill="#c9cbd4"/>
<rect x="1503.18" y="81.2" width="12.15" height="15.65" fill="#cccfd5"/>
<rect x="1515.28" y="81.2" width="60.57" height="15.65" fill="#d0d1d5"/>
<rect x="1575.79" y="81.2" width="24.26" height="15.65" fill="#cbcdd5"/>
<rect x="389.70" y="96.8" width="24.26" height="14.15" fill="#c1aaac"/>
<rect x="413.91" y="96.8" width="12.15" height="14.15" fill="#bba8aa"/>
<rect x="426.01" y="96.8" width="12.15" height="14.15" fill="#b9a7a9"/>
<rect x="438.11" y="96.8" width="12.15" height="14.15" fill="#c1aaac"/>
<rect x="450.21" y="96.8" width="24.26" height="14.15" fill="#bba8aa"/>
<rect x="474.42" y="96.8" width="12.15" height="14.15" fill="#a0a0a0"/>
<rect x="486.52" y="96.8" width="12.15" height="14.15" fill="#bfa9ab"/>
<rect x="498.63" y="96.8" width="12.15" height="14.15" fill="#c8b0b0"/>
<rect x="510.73" y="96.8" width="12.15" height="14.15" fill="#bfa9ab"/>
<rect x="522.83" y="96.8" width="12.15" height="14.15" fill="#c1aaac"/>
<rect x="534.94" y="96.8" width="12.15" height="14.15" fill="#bda9aa"/>
<rect x="547.04" y="96.8" width="24.26" height="14.15" fill="#bba8aa"/>
<rect x="571.25" y="96.8" width="12.15" height="14.15" fill="#c1aaac"/>
<rect x="583.35" y="96.8" width="12.15" height="14.15" fill="#c9b3b5"/>
<rect x="595.45" y="96.8" width="12.15" height="14.15" fill="#c2abad"/>
<rect x="607.55" y="96.8" width="24.26" height="14.15" fill="#c9aeb0"/>
<rect x="631.76" y="96.8" width="12.15" height="14.15" fill="#c9b8b8"/>
<rect x="643.86" y="96.8" width="24.26" height="14.15" fill="#c6aeae"/>
<rect x="668.07" y="96.8" width="12.15" height="14.15" fill="#aea6a5"/>
<rect x="680.17" y="96.8" width="12.15" height="14.15" fill="#c4adad"/>
<rect x="692.27" y="96.8" width="12.15" height="14.15" fill="#ccbebd"/>
<rect x="704.38" y="96.8" width="12.15" height="14.15" fill="#cbb9b9"/>
<rect x="716.48" y="96.8" width="12.15" height="14.15" fill="#cdc2c2"/>
<rect x="728.58" y="96.8" width="12.15" height="14.15" fill="#c4abab"/>
<rect x="740.69" y="96.8" width="12.15" height="14.15" fill="#c8b3b5"/>
<rect x="752.79" y="96.8" width="11.26" height="14.15" fill="#c9adae"/>
<rect x="764.00" y="96.8" width="13.05" height="14.15" fill="#882d2d"/>
<rect x="777.00" y="96.8" width="12.15" height="14.15" fill="#b93c3c"/>
<rect x="789.10" y="96.8" width="12.15" height="14.15" fill="#c65353"/>
<rect x="801.20" y="96.8" width="12.15" height="14.15" fill="#b03a3a"/>
<rect x="813.31" y="96.8" width="12.15" height="14.15" fill="#f5dcdc"/>
<rect x="825.41" y="96.8" width="12.15" height="14.15" fill="#a93737"/>
<rect x="837.51" y="96.8" width="12.15" height="14.15" fill="#fffafa"/>
<rect x="849.61" y="96.8" width="12.15" height="14.15" fill="#d27575"/>
<rect x="861.72" y="96.8" width="12.15" height="14.15" fill="#d67f7f"/>
<rect x="873.82" y="96.8" width="12.15" height="14.15" fill="#e6a9a9"/>
<rect x="885.92" y="96.8" width="12.15" height="14.15" fill="#e9b4b4"/>
<rect x="898.03" y="96.8" width="12.15" height="14.15" fill="#f9eaea"/>
<rect x="910.13" y="96.8" width="12.15" height="14.15" fill="#e6a9a9"/>
<rect x="922.23" y="96.8" width="8.02" height="14.15" fill="#c94f4f"/>
<rect x="930.20" y="96.8" width="16.29" height="14.15" fill="#c9b4b6"/>
<rect x="946.44" y="96.8" width="12.15" height="14.15" fill="#d1c6c5"/>
<rect x="958.54" y="96.8" width="36.36" height="14.15" fill="#d3d2d2"/>
<rect x="994.85" y="96.8" width="12.15" height="14.15" fill="#d0c8c8"/>
<rect x="1006.95" y="96.8" width="12.15" height="14.15" fill="#cec3c3"/>
<rect x="1019.06" y="96.8" width="12.15" height="14.15" fill="#c9aeb0"/>
<rect x="1031.16" y="96.8" width="12.15" height="14.15" fill="#d0c6c6"/>
<rect x="1043.26" y="96.8" width="12.15" height="14.15" fill="#cdc0c1"/>
<rect x="1055.37" y="96.8" width="12.15" height="14.15" fill="#b9a7a7"/>
<rect x="1067.47" y="96.8" width="12.15" height="14.15" fill="#c8b1b3"/>
<rect x="1079.57" y="96.8" width="12.15" height="14.15" fill="#cbbbbc"/>
<rect x="1091.67" y="96.8" width="24.26" height="14.15" fill="#c8b3b4"/>
<rect x="1115.88" y="96.8" width="12.15" height="14.15" fill="#d0c6c6"/>
<rect x="1127.98" y="96.8" width="12.15" height="14.15" fill="#c3aaac"/>
<rect x="1140.09" y="96.8" width="12.15" height="14.15" fill="#c9b4b6"/>
<rect x="1152.19" y="96.8" width="12.15" height="14.15" fill="#cdc0c0"/>
<rect x="1164.29" y="96.8" width="12.15" height="14.15" fill="#ada5a4"/>
<rect x="1176.39" y="96.8" width="12.15" height="14.15" fill="#c1aaac"/>
<rect x="1188.50" y="96.8" width="12.15" height="14.15" fill="#bfa9ab"/>
<rect x="1200.60" y="96.8" width="12.15" height="14.15" fill="#b7a6a7"/>
<rect x="1212.70" y="96.8" width="12.15" height="14.15" fill="#baa7a8"/>
<rect x="1224.81" y="96.8" width="12.15" height="14.15" fill="#b5a6a6"/>
<rect x="1236.91" y="96.8" width="12.15" height="14.15" fill="#baa7a8"/>
<rect x="1249.01" y="96.8" width="12.15" height="14.15" fill="#b5a6a6"/>
<rect x="1261.12" y="96.8" width="12.15" height="14.15" fill="#baa7a8"/>
<rect x="1273.22" y="96.8" width="12.15" height="14.15" fill="#afa5a5"/>
<rect x="1285.32" y="96.8" width="12.15" height="14.15" fill="#baa7a8"/>
<rect x="1297.42" y="96.8" width="12.15" height="14.15" fill="#c1aaac"/>
<rect x="1309.53" y="96.8" width="12.15" height="14.15" fill="#ada5a4"/>
<rect x="1321.63" y="96.8" width="12.15" height="14.15" fill="#c1aaac"/>
<rect x="1333.73" y="96.8" width="12.15" height="14.15" fill="#bba8a9"/>
<rect x="1345.84" y="96.8" width="12.15" height="14.15" fill="#b9a7a8"/>
<rect x="1357.94" y="96.8" width="24.26" height="14.15" fill="#b3a6a6"/>
<rect x="1382.15" y="96.8" width="12.15" height="14.15" fill="#c1aaac"/>
<rect x="1394.25" y="96.8" width="12.15" height="14.15" fill="#ada5a4"/>
<rect x="1406.35" y="96.8" width="12.15" height="14.15" fill="#c6abad"/>
<rect x="1418.45" y="96.8" width="12.15" height="14.15" fill="#b1a5a5"/>
<rect x="1430.56" y="96.8" width="12.15" height="14.15" fill="#a9a4a4"/>
<rect x="1442.66" y="96.8" width="12.15" height="14.15" fill="#c8acae"/>
<rect x="1454.76" y="96.8" width="12.15" height="14.15" fill="#a3a2a2"/>
<rect x="1466.87" y="96.8" width="12.15" height="14.15" fill="#c8acae"/>
<rect x="1478.97" y="96.8" width="12.15" height="14.15" fill="#bda8a9"/>
<rect x="1491.07" y="96.8" width="12.15" height="14.15" fill="#b5a6a7"/>
<rect x="1503.18" y="96.8" width="12.15" height="14.15" fill="#a9a4a4"/>
<rect x="1515.28" y="96.8" width="12.15" height="14.15" fill="#c6acab"/>
<rect x="1527.38" y="96.8" width="12.15" height="14.15" fill="#b3a6a6"/>
<rect x="1539.49" y="96.8" width="12.15" height="14.15" fill="#b9a7a8"/>
<rect x="1551.59" y="96.8" width="12.15" height="14.15" fill="#b7a6a7"/>
<rect x="1563.69" y="96.8" width="12.15" height="14.15" fill="#a9a4a4"/>
<rect x="1575.79" y="96.8" width="12.15" height="14.15" fill="#b7a6a7"/>
<rect x="1587.90" y="96.8" width="12.15" height="14.15" fill="#c1aaac"/>
<rect x="389.70" y="110.9" width="12.15" height="14.05" fill="#ada9a0"/>
<rect x="401.80" y="110.9" width="12.15" height="14.05" fill="#a0a0a0"/>
<rect x="413.91" y="110.9" width="12.15" height="14.05" fill="#cec5ba"/>
<rect x="426.01" y="110.9" width="12.15" height="14.05" fill="#c6bba8"/>
<rect x="438.11" y="110.9" width="36.36" height="14.05" fill="#bcb2a7"/>
<rect x="474.42" y="110.9" width="24.26" height="14.05" fill="#c1b6a8"/>
<rect x="498.63" y="110.9" width="12.15" height="14.05" fill="#aba8a4"/>
<rect x="510.73" y="110.9" width="24.26" height="14.05" fill="#c5baa8"/>
<rect x="534.94" y="110.9" width="12.15" height="14.05" fill="#a0a0a0"/>
<rect x="547.04" y="110.9" width="12.15" height="14.05" fill="#d0cdc6"/>
<rect x="559.14" y="110.9" width="36.36" height="14.05" fill="#bcb2a7"/>
<rect x="595.45" y="110.9" width="12.15" height="14.05" fill="#bdb4a9"/>
<rect x="607.55" y="110.9" width="12.15" height="14.05" fill="#cabdaf"/>
<rect x="619.66" y="110.9" width="12.15" height="14.05" fill="#c3b9ab"/>
<rect x="631.76" y="110.9" width="12.15" height="14.05" fill="#bab2a7"/>
<rect x="643.86" y="110.9" width="12.15" height="14.05" fill="#c3b9ad"/>
<rect x="655.97" y="110.9" width="12.15" height="14.05" fill="#cfc7bc"/>
<rect x="668.07" y="110.9" width="12.15" height="14.05" fill="#a8a7a3"/>
<rect x="680.17" y="110.9" width="12.15" height="14.05" fill="#c7bca9"/>
<rect x="692.27" y="110.9" width="12.15" height="14.05" fill="#cdc3b9"/>
<rect x="704.38" y="110.9" width="12.15" height="14.05" fill="#d0ccc7"/>
<rect x="716.48" y="110.9" width="12.15" height="14.05" fill="#cac2b6"/>
<rect x="728.58" y="110.9" width="24.26" height="14.05" fill="#bfb6aa"/>
<rect x="752.79" y="110.9" width="11.26" height="14.05" fill="#cdc5bb"/>
<rect x="764.00" y="110.9" width="13.05" height="14.05" fill="#a26b33"/>
<rect x="777.00" y="110.9" width="12.15" height="14.05" fill="#bd7f3f"/>
<rect x="789.10" y="110.9" width="12.15" height="14.05" fill="#b57a3b"/>
<rect x="801.20" y="110.9" width="12.15" height="14.05" fill="#bd7f3f"/>
<rect x="813.31" y="110.9" width="12.15" height="14.05" fill="#d4a675"/>
<rect x="825.41" y="110.9" width="12.15" height="14.05" fill="#d5a97a"/>
<rect x="837.51" y="110.9" width="12.15" height="14.05" fill="#fefcfa"/>
<rect x="849.61" y="110.9" width="12.15" height="14.05" fill="#e0be98"/>
<rect x="861.72" y="110.9" width="12.15" height="14.05" fill="#453018"/>
<rect x="873.82" y="110.9" width="12.15" height="14.05" fill="#ecd9c2"/>
<rect x="885.92" y="110.9" width="12.15" height="14.05" fill="#885e2d"/>
<rect x="898.03" y="110.9" width="12.15" height="14.05" fill="#ce9e68"/>
<rect x="910.13" y="110.9" width="12.15" height="14.05" fill="#e9cfb1"/>
<rect x="922.23" y="110.9" width="8.02" height="14.05" fill="#b57a3b"/>
<rect x="930.20" y="110.9" width="16.29" height="14.05" fill="#c9bfb3"/>
<rect x="946.44" y="110.9" width="12.15" height="14.05" fill="#d0c8c2"/>
<rect x="958.54" y="110.9" width="12.15" height="14.05" fill="#bbb3a8"/>
<rect x="970.64" y="110.9" width="12.15" height="14.05" fill="#cfcac3"/>
<rect x="982.75" y="110.9" width="12.15" height="14.05" fill="#c8bbaa"/>
<rect x="994.85" y="110.9" width="12.15" height="14.05" fill="#c3b9ab"/>
<rect x="1006.95" y="110.9" width="12.15" height="14.05" fill="#b6aea8"/>
<rect x="1019.06" y="110.9" width="12.15" height="14.05" fill="#a6a5a3"/>
<rect x="1031.16" y="110.9" width="24.26" height="14.05" fill="#cbc2b5"/>
<rect x="1055.37" y="110.9" width="12.15" height="14.05" fill="#c8bbad"/>
<rect x="1067.47" y="110.9" width="12.15" height="14.05" fill="#cfccc6"/>
<rect x="1079.57" y="110.9" width="12.15" height="14.05" fill="#cbc0b3"/>
<rect x="1091.67" y="110.9" width="24.26" height="14.05" fill="#cec8c1"/>
<rect x="1115.88" y="110.9" width="12.15" height="14.05" fill="#d0cfca"/>
<rect x="1127.98" y="110.9" width="12.15" height="14.05" fill="#c1b6a9"/>
<rect x="1140.09" y="110.9" width="12.15" height="14.05" fill="#bdb3a7"/>
<rect x="1152.19" y="110.9" width="12.15" height="14.05" fill="#cec6be"/>
<rect x="1164.29" y="110.9" width="12.15" height="14.05" fill="#c1b6a8"/>
<rect x="1176.39" y="110.9" width="12.15" height="14.05" fill="#b5aea7"/>
<rect x="1188.50" y="110.9" width="12.15" height="14.05" fill="#c5baab"/>
<rect x="1200.60" y="110.9" width="12.15" height="14.05" fill="#b9b1a7"/>
<rect x="1212.70" y="110.9" width="12.15" height="14.05" fill="#b3ada7"/>
<rect x="1224.81" y="110.9" width="12.15" height="14.05" fill="#beb4a7"/>
<rect x="1236.91" y="110.9" width="12.15" height="14.05" fill="#b5aea7"/>
<rect x="1249.01" y="110.9" width="24.26" height="14.05" fill="#b9b0a6"/>
<rect x="1273.22" y="110.9" width="12.15" height="14.05" fill="#b5ada7"/>
<rect x="1285.32" y="110.9" width="12.15" height="14.05" fill="#bdb3a7"/>
<rect x="1297.42" y="110.9" width="12.15" height="14.05" fill="#a7a6a3"/>
<rect x="1309.53" y="110.9" width="12.15" height="14.05" fill="#c7bba9"/>
<rect x="1321.63" y="110.9" width="12.15" height="14.05" fill="#b7afa7"/>
<rect x="1333.73" y="110.9" width="12.15" height="14.05" fill="#afaaa3"/>
<rect x="1345.84" y="110.9" width="12.15" height="14.05" fill="#c3b9a9"/>
<rect x="1357.94" y="110.9" width="12.15" height="14.05" fill="#aca8a4"/>
<rect x="1370.04" y="110.9" width="12.15" height="14.05" fill="#c3b9aa"/>
<rect x="1382.15" y="110.9" width="36.36" height="14.05" fill="#b9b0a6"/>
<rect x="1418.45" y="110.9" width="12.15" height="14.05" fill="#b5ada7"/>
<rect x="1430.56" y="110.9" width="24.26" height="14.05" fill="#b9b0a6"/>
<rect x="1454.76" y="110.9" width="12.15" height="14.05" fill="#afaaa4"/>
<rect x="1466.87" y="110.9" width="36.36" height="14.05" fill="#b9b0a6"/>
<rect x="1503.18" y="110.9" width="12.15" height="14.05" fill="#b3ada7"/>
<rect x="1515.28" y="110.9" width="12.15" height="14.05" fill="#a0a0a0"/>
<rect x="1527.38" y="110.9" width="24.26" height="14.05" fill="#d3d3d3"/>
<rect x="1551.59" y="110.9" width="12.15" height="14.05" fill="#a0a0a0"/>
<rect x="1563.69" y="110.9" width="12.15" height="14.05" fill="#c9bdaf"/>
<rect x="1575.79" y="110.9" width="24.26" height="14.05" fill="#c1b6a9"/>
<rect x="389.70" y="124.9" width="24.26" height="14.15" fill="#cdcdba"/>
<rect x="413.91" y="124.9" width="36.36" height="14.15" fill="#d3d3ce"/>
<rect x="450.21" y="124.9" width="24.26" height="14.15" fill="#cdcdba"/>
<rect x="474.42" y="124.9" width="60.56" height="14.15" fill="#d3d3d0"/>
<rect x="534.94" y="124.9" width="24.26" height="14.15" fill="#cfd0c4"/>
<rect x="559.14" y="124.9" width="12.15" height="14.15" fill="#d1d2cb"/>
<rect x="571.25" y="124.9" width="12.15" height="14.15" fill="#d0d1c8"/>
<rect x="583.35" y="124.9" width="12.15" height="14.15" fill="#cfd0c4"/>
<rect x="595.45" y="124.9" width="24.26" height="14.15" fill="#d3d4d0"/>
<rect x="619.66" y="124.9" width="12.15" height="14.15" fill="#d1d2cb"/>
<rect x="631.76" y="124.9" width="12.15" height="14.15" fill="#cdcebf"/>
<rect x="643.86" y="124.9" width="12.15" height="14.15" fill="#d5d5d3"/>
<rect x="655.97" y="124.9" width="36.36" height="14.15" fill="#d0d1c8"/>
<rect x="692.27" y="124.9" width="24.26" height="14.15" fill="#d4d4d3"/>
<rect x="716.48" y="124.9" width="12.15" height="14.15" fill="#c8cab3"/>
<rect x="728.58" y="124.9" width="12.15" height="14.15" fill="#cfd0c4"/>
<rect x="740.69" y="124.9" width="12.15" height="14.15" fill="#d2d3cd"/>
<rect x="752.79" y="124.9" width="11.26" height="14.15" fill="#cfd0c4"/>
<rect x="764.00" y="124.9" width="13.05" height="14.15" fill="#bcc247"/>
<rect x="777.00" y="124.9" width="12.15" height="14.15" fill="#e4e6ac"/>
<rect x="789.10" y="124.9" width="12.15" height="14.15" fill="#f0f1d1"/>
<rect x="801.20" y="124.9" width="12.15" height="14.15" fill="#d8db8f"/>
<rect x="813.31" y="124.9" width="12.15" height="14.15" fill="#e9ebc0"/>
<rect x="825.41" y="124.9" width="24.26" height="14.15" fill="#eff0d2"/>
<rect x="849.61" y="124.9" width="12.15" height="14.15" fill="#edeed0"/>
<rect x="861.72" y="124.9" width="24.26" height="14.15" fill="#e9eac0"/>
<rect x="885.92" y="124.9" width="12.15" height="14.15" fill="#f2f3da"/>
<rect x="898.03" y="124.9" width="12.15" height="14.15" fill="#dfe1a3"/>
<rect x="910.13" y="124.9" width="12.15" height="14.15" fill="#e4e6b2"/>
<rect x="922.23" y="124.9" width="8.02" height="14.15" fill="#eaecc4"/>
<rect x="930.20" y="124.9" width="101.01" height="14.15" fill="#d1d2cb"/>
<rect x="1031.16" y="124.9" width="12.15" height="14.15" fill="#cbccb9"/>
<rect x="1043.26" y="124.9" width="12.15" height="14.15" fill="#d1d2cb"/>
<rect x="1055.37" y="124.9" width="12.15" height="14.15" fill="#cdcec1"/>
<rect x="1067.47" y="124.9" width="12.15" height="14.15" fill="#d1d2cb"/>
<rect x="1079.57" y="124.9" width="12.15" height="14.15" fill="#d0d1c6"/>
<rect x="1091.67" y="124.9" width="24.26" height="14.15" fill="#d1d2cb"/>
<rect x="1115.88" y="124.9" width="36.36" height="14.15" fill="#d0d1c8"/>
<rect x="1152.19" y="124.9" width="36.36" height="14.15" fill="#d3d4d2"/>
<rect x="1188.50" y="124.9" width="12.15" height="14.15" fill="#d0d1c9"/>
<rect x="1200.60" y="124.9" width="108.98" height="14.15" fill="#d3d3d0"/>
<rect x="1309.53" y="124.9" width="12.15" height="14.15" fill="#cfd0c3"/>
<rect x="1321.63" y="124.9" width="242.11" height="14.15" fill="#d3d3d3"/>
<rect x="1563.69" y="124.9" width="12.15" height="14.15" fill="#d0d2ca"/>
<rect x="1575.79" y="124.9" width="12.15" height="14.15" fill="#cbccb9"/>
<rect x="1587.90" y="124.9" width="12.15" height="14.15" fill="#cfd1c6"/>
<rect x="389.70" y="139.0" width="36.36" height="16.05" fill="#b3c1aa"/>
<rect x="426.01" y="139.0" width="24.26" height="16.05" fill="#adb9a8"/>
<rect x="450.21" y="139.0" width="12.15" height="16.05" fill="#abb5a9"/>
<rect x="462.32" y="139.0" width="24.26" height="16.05" fill="#b0bda8"/>
<rect x="486.52" y="139.0" width="12.15" height="16.05" fill="#a5ada3"/>
<rect x="498.63" y="139.0" width="12.15" height="16.05" fill="#b0bda8"/>
<rect x="510.73" y="139.0" width="12.15" height="16.05" fill="#a0a0a0"/>
<rect x="522.83" y="139.0" width="12.15" height="16.05" fill="#d4d4d4"/>
<rect x="534.94" y="139.0" width="24.26" height="16.05" fill="#b3c1aa"/>
<rect x="559.14" y="139.0" width="24.26" height="16.05" fill="#adb9a8"/>
<rect x="583.35" y="139.0" width="12.15" height="16.05" fill="#adb9a9"/>
<rect x="595.45" y="139.0" width="12.15" height="16.05" fill="#bccab6"/>
<rect x="607.55" y="139.0" width="12.15" height="16.05" fill="#b7c6b0"/>
<rect x="619.66" y="139.0" width="12.15" height="16.05" fill="#bbc9b4"/>
<rect x="631.76" y="139.0" width="12.15" height="16.05" fill="#b1bfab"/>
<rect x="643.86" y="139.0" width="12.15" height="16.05" fill="#abb9a8"/>
<rect x="655.97" y="139.0" width="12.15" height="16.05" fill="#adbaa9"/>
<rect x="668.07" y="139.0" width="12.15" height="16.05" fill="#b7c5af"/>
<rect x="680.17" y="139.0" width="12.15" height="16.05" fill="#a9b6a6"/>
<rect x="692.27" y="139.0" width="12.15" height="16.05" fill="#b7c6ae"/>
<rect x="704.38" y="139.0" width="24.26" height="16.05" fill="#b9c8b1"/>
<rect x="728.58" y="139.0" width="35.47" height="16.05" fill="#adbaa9"/>
<rect x="764.00" y="139.0" width="13.05" height="16.05" fill="#46792a"/>
<rect x="777.00" y="139.0" width="12.15" height="16.05" fill="#78c043"/>
<rect x="789.10" y="139.0" width="12.15" height="16.05" fill="#437829"/>
<rect x="801.20" y="139.0" width="12.15" height="16.05" fill="#47792a"/>
<rect x="813.31" y="139.0" width="12.15" height="16.05" fill="#4e842e"/>
<rect x="825.41" y="139.0" width="12.15" height="16.05" fill="#72bf44"/>
<rect x="837.51" y="139.0" width="12.15" height="16.05" fill="#426f27"/>
<rect x="849.61" y="139.0" width="12.15" height="16.05" fill="#558b2f"/>
<rect x="861.72" y="139.0" width="12.15" height="16.05" fill="#82c653"/>
<rect x="873.82" y="139.0" width="12.15" height="16.05" fill="#bce3a3"/>
<rect x="885.92" y="139.0" width="12.15" height="16.05" fill="#f6fbf2"/>
<rect x="898.03" y="139.0" width="12.15" height="16.05" fill="#cdeabb"/>
<rect x="910.13" y="139.0" width="12.15" height="16.05" fill="#bfe4a7"/>
<rect x="922.23" y="139.0" width="8.02" height="16.05" fill="#d3edc3"/>
<rect x="930.20" y="139.0" width="4.18" height="16.05" fill="#cfd5ca"/>
<rect x="934.34" y="139.0" width="12.15" height="16.05" fill="#afbea8"/>
<rect x="946.44" y="139.0" width="12.15" height="16.05" fill="#cbd3c9"/>
<rect x="958.54" y="139.0" width="24.26" height="16.05" fill="#d3d4d2"/>
<rect x="982.75" y="139.0" width="12.15" height="16.05" fill="#cfd4cd"/>
<rect x="994.85" y="139.0" width="12.15" height="16.05" fill="#d3d3d2"/>
<rect x="1006.95" y="139.0" width="12.15" height="16.05" fill="#c7d1c3"/>
<rect x="1019.06" y="139.0" width="12.15" height="16.05" fill="#b0c0a9"/>
<rect x="1031.16" y="139.0" width="12.15" height="16.05" fill="#bfcdb8"/>
<rect x="1043.26" y="139.0" width="24.26" height="16.05" fill="#d2d3d0"/>
<rect x="1067.47" y="139.0" width="12.15" height="16.05" fill="#bccbb5"/>
<rect x="1079.57" y="139.0" width="12.15" height="16.05" fill="#cdd3ca"/>
<rect x="1091.67" y="139.0" width="24.26" height="16.05" fill="#d3d3d2"/>
<rect x="1115.88" y="139.0" width="12.15" height="16.05" fill="#d3d3d3"/>
<rect x="1127.98" y="139.0" width="24.26" height="16.05" fill="#cdd3ca"/>
<rect x="1152.19" y="139.0" width="12.15" height="16.05" fill="#bfcdb8"/>
<rect x="1164.29" y="139.0" width="12.15" height="16.05" fill="#c5d0c0"/>
<rect x="1176.39" y="139.0" width="24.26" height="16.05" fill="#b0c0a9"/>
<rect x="1200.60" y="139.0" width="12.15" height="16.05" fill="#b7c7ab"/>
<rect x="1212.70" y="139.0" width="12.15" height="16.05" fill="#d3d3d2"/>
<rect x="1224.81" y="139.0" width="12.15" height="16.05" fill="#cbd3c8"/>
<rect x="1236.91" y="139.0" width="24.26" height="16.05" fill="#b9c9b0"/>
<rect x="1261.12" y="139.0" width="12.15" height="16.05" fill="#d3d3d2"/>
<rect x="1273.22" y="139.0" width="12.15" height="16.05" fill="#b7c7ab"/>
<rect x="1285.32" y="139.0" width="12.15" height="16.05" fill="#c5d0c0"/>
<rect x="1297.42" y="139.0" width="12.15" height="16.05" fill="#bfcdb8"/>
<rect x="1309.53" y="139.0" width="12.15" height="16.05" fill="#cdd3ca"/>
<rect x="1321.63" y="139.0" width="12.15" height="16.05" fill="#d3d3d3"/>
<rect x="1333.73" y="139.0" width="12.15" height="16.05" fill="#cdd3ca"/>
<rect x="1345.84" y="139.0" width="121.08" height="16.05" fill="#d3d3d3"/>
<rect x="1466.87" y="139.0" width="12.15" height="16.05" fill="#cdd3ca"/>
<rect x="1478.97" y="139.0" width="72.67" height="16.05" fill="#d3d3d3"/>
<rect x="1551.59" y="139.0" width="12.15" height="16.05" fill="#c3cdc0"/>
<rect x="1563.69" y="139.0" width="12.15" height="16.05" fill="#c9d1c6"/>
<rect x="1575.79" y="139.0" width="24.26" height="16.05" fill="#d3d3d3"/>
<rect x="758.1" y="38.8" width="10.7" height="33.3" fill="#9a9a9a" shape-rendering="geometricPrecision"/>
<rect x="762.7" y="72" width="1.6" height="83.3" fill="#9a9a9a"/>
<rect x="924.8" y="38.8" width="10.7" height="33.3" fill="#9a9a9a" shape-rendering="geometricPrecision"/>
<rect x="929.4" y="72" width="1.6" height="83.3" fill="#9a9a9a"/>
</svg>
<div class="a" style="left:0;top:154.4px;width:1600px;height:1.2px;background:#d4d4d4;"></div>
<div class="t" style="left:10.60px;top:158.51px;font-size:17.83px;line-height:17.83px;color:#999;transform:scaleX(0.8982);-webkit-text-stroke:0.4px #999;">59.7 s +</div>
<div class="t" style="left:312.60px;top:158.51px;font-size:17.83px;line-height:17.83px;color:#999;transform:scaleX(0.9197);-webkit-text-stroke:0.4px #999;">752.3 ms</div>
<svg class="a" style="left:8px;top:192px;" width="22" height="32" viewBox="0 0 22 32"><path d="M4.6 5.6 L10.7 11.6 L16.8 5.6 M4.6 27.2 L10.7 21.2 L16.8 27.2" fill="none" stroke="#000" stroke-width="2.7"/></svg>
<div class="a" style="left:387.2px;top:155.5px;width:2.4px;height:74px;background:linear-gradient(90deg,#9a9a9a 65%,#c9c9c9);"></div>
<div class="a" id="time-axis" style="left:389px;top:155px;width:1211px;height:74px;overflow:hidden;">
<svg class="a" style="left:41px;top:0;" width="6" height="74"><rect x="2.5" y="0" width="1.1" height="74" fill="#999"/></svg>
<div class="t" style="left:51.30px;top:3.40px;font-size:15.36px;line-height:15.36px;color:#949494;transform:scaleX(0.8980);-webkit-text-stroke:0.3px #949494;">+11.8 ms</div>
<svg class="a" style="left:115px;top:0;" width="6" height="74"><rect x="2.5" y="0" width="1.1" height="74" fill="#999"/></svg>
<div class="t" style="left:125.22px;top:3.40px;font-size:15.36px;line-height:15.36px;color:#949494;transform:scaleX(0.8980);-webkit-text-stroke:0.3px #949494;">+31.8 ms</div>
<svg class="a" style="left:189px;top:0;" width="6" height="74"><rect x="2.0" y="0" width="1.1" height="74" fill="#999"/></svg>
<div class="t" style="left:199.14px;top:3.40px;font-size:15.36px;line-height:15.36px;color:#949494;transform:scaleX(0.8980);-webkit-text-stroke:0.3px #949494;">+51.8 ms</div>
<svg class="a" style="left:263px;top:0;" width="6" height="74"><rect x="2.0" y="0" width="1.1" height="74" fill="#999"/></svg>
<div class="t" style="left:273.06px;top:3.40px;font-size:15.36px;line-height:15.36px;color:#949494;transform:scaleX(0.8980);-webkit-text-stroke:0.3px #949494;">+71.8 ms</div>
<svg class="a" style="left:337px;top:0;" width="6" height="74"><rect x="2.0" y="0" width="1.1" height="74" fill="#999"/></svg>
<div class="t" style="left:346.98px;top:3.40px;font-size:15.36px;line-height:15.36px;color:#949494;transform:scaleX(0.8980);-webkit-text-stroke:0.3px #949494;">+91.8 ms</div>
<svg class="a" style="left:411px;top:0;" width="6" height="74"><rect x="2.0" y="0" width="1.1" height="74" fill="#999"/></svg>
<div class="t" style="left:420.90px;top:3.40px;font-size:15.36px;line-height:15.36px;color:#949494;transform:scaleX(0.8980);-webkit-text-stroke:0.3px #949494;">+111.8 ms</div>
<svg class="a" style="left:485px;top:0;" width="6" height="74"><rect x="2.0" y="0" width="1.1" height="74" fill="#999"/></svg>
<div class="t" style="left:494.82px;top:3.40px;font-size:15.36px;line-height:15.36px;color:#949494;transform:scaleX(0.8980);-webkit-text-stroke:0.3px #949494;">+131.8 ms</div>
<svg class="a" style="left:559px;top:0;" width="6" height="74"><rect x="2.0" y="0" width="1.1" height="74" fill="#999"/></svg>
<div class="t" style="left:568.74px;top:3.40px;font-size:15.36px;line-height:15.36px;color:#949494;transform:scaleX(0.8980);-webkit-text-stroke:0.3px #949494;">+151.8 ms</div>
<svg class="a" style="left:633px;top:0;" width="6" height="74"><rect x="1.5" y="0" width="1.1" height="74" fill="#999"/></svg>
<div class="t" style="left:642.66px;top:3.40px;font-size:15.36px;line-height:15.36px;color:#949494;transform:scaleX(0.8980);-webkit-text-stroke:0.3px #949494;">+171.8 ms</div>
<svg class="a" style="left:707px;top:0;" width="6" height="74"><rect x="1.5" y="0" width="1.1" height="74" fill="#999"/></svg>
<div class="t" style="left:716.58px;top:3.40px;font-size:15.36px;line-height:15.36px;color:#949494;transform:scaleX(0.8980);-webkit-text-stroke:0.3px #949494;">+191.8 ms</div>
<svg class="a" style="left:781px;top:0;" width="6" height="74"><rect x="1.5" y="0" width="1.1" height="74" fill="#999"/></svg>
<div class="t" style="left:790.50px;top:3.40px;font-size:15.36px;line-height:15.36px;color:#949494;transform:scaleX(0.8980);-webkit-text-stroke:0.3px #949494;">+211.8 ms</div>
<svg class="a" style="left:855px;top:0;" width="6" height="74"><rect x="1.5" y="0" width="1.1" height="74" fill="#999"/></svg>
<div class="t" style="left:864.42px;top:3.40px;font-size:15.36px;line-height:15.36px;color:#949494;transform:scaleX(0.8980);-webkit-text-stroke:0.3px #949494;">+231.8 ms</div>
<svg class="a" style="left:928px;top:0;" width="6" height="74"><rect x="2.5" y="0" width="1.1" height="74" fill="#999"/></svg>
<div class="t" style="left:938.34px;top:3.40px;font-size:15.36px;line-height:15.36px;color:#949494;transform:scaleX(0.8980);-webkit-text-stroke:0.3px #949494;">+251.8 ms</div>
<svg class="a" style="left:1002px;top:0;" width="6" height="74"><rect x="2.5" y="0" width="1.1" height="74" fill="#999"/></svg>
<div class="t" style="left:1012.26px;top:3.40px;font-size:15.36px;line-height:15.36px;color:#949494;transform:scaleX(0.8980);-webkit-text-stroke:0.3px #949494;">+271.8 ms</div>
<svg class="a" style="left:1076px;top:0;" width="6" height="74"><rect x="2.0" y="0" width="1.1" height="74" fill="#999"/></svg>
<div class="t" style="left:1086.18px;top:3.40px;font-size:15.36px;line-height:15.36px;color:#949494;transform:scaleX(0.8980);-webkit-text-stroke:0.3px #949494;">+291.8 ms</div>
<svg class="a" style="left:1150px;top:0;" width="6" height="74"><rect x="2.0" y="0" width="1.1" height="74" fill="#999"/></svg>
<div class="t" style="left:1160.10px;top:3.40px;font-size:15.36px;line-height:15.36px;color:#949494;transform:scaleX(0.8980);-webkit-text-stroke:0.3px #949494;">+311.8 ms</div>
</div>
<div class="a" style="left:456px;top:221.8px;width:1051.8px;height:7.6px;background:#ffe263;"></div>
<svg class="a" style="left:450px;top:221px;" width="12" height="9" viewBox="0 0 12 9"><path d="M1.4 0.9 L10.7 0.9 L6.05 8.2 Z" fill="#000"/></svg>
<div class="a" style="left:0;top:229.3px;width:389px;height:62.3px;background:linear-gradient(#d8bc4f 0,#e7ca57 4px,#f3d75e 8px,#fbde62 12px,#ffe263 16px);border-bottom:1px solid #d9c257;box-sizing:border-box;"></div>
<div class="a" style="left:389px;top:229.2px;width:1211px;height:61.8px;background:#262f3c;border-top:1px solid #1c232e;border-bottom:1.4px solid #0c111c;box-sizing:border-box;"></div>
<svg class="a" style="left:12px;top:250px;" width="26" height="20" viewBox="0 0 26 20"><path d="M4.9 14.2 L13 6.2 L21.1 14.2" fill="none" stroke="#111" stroke-width="3"/></svg>
<div class="t" style="left:50.20px;top:237.02px;font-size:21.59px;line-height:21.59px;color:#1b1b1b;transform:scaleX(0.8431);">com.google.android.adservices.api</div>
<div class="t" style="left:51.00px;top:260.32px;font-size:21.59px;line-height:21.59px;color:#1b1b1b;transform:scaleX(0.8312);">5614</div>
<div class="a" style="left:389px;top:291px;width:1211px;height:1px;opacity:0.45;background:repeating-linear-gradient(90deg,#b2b2b6 0 2.6px,#7d55c6 2.6px 6.2px,#b2b2b6 6.2px 9.3px);"></div>
<div class="a" style="left:389px;top:292px;width:1211px;height:1px;background:repeating-linear-gradient(90deg,#b2b2b6 0 2.6px,#7d55c6 2.6px 6.2px,#b2b2b6 6.2px 9.3px);"></div>
<div class="a" id="tracks" style="left:0;top:291.8px;width:1600px;height:571.2px;overflow:hidden;">
<svg class="a" style="left:0;top:0;" width="1600" height="572" viewBox="0 0 1600 572">
<rect x="432.0" y="0" width="1" height="572" fill="#bebebe"/>
<rect x="506.0" y="0" width="1" height="572" fill="#bebebe"/>
<rect x="580.0" y="0" width="1" height="572" fill="#bebebe"/>
<rect x="653.5" y="0" width="1" height="572" fill="#bebebe"/>
<rect x="727.5" y="0" width="1" height="572" fill="#bebebe"/>
<rect x="801.5" y="0" width="1" height="572" fill="#bebebe"/>
<rect x="875.0" y="0" width="1" height="572" fill="#bebebe"/>
<rect x="949.0" y="0" width="1" height="572" fill="#bebebe"/>
<rect x="1023.0" y="0" width="1" height="572" fill="#bebebe"/>
<rect x="1096.5" y="0" width="1" height="572" fill="#bebebe"/>
<rect x="1170.5" y="0" width="1" height="572" fill="#bebebe"/>
<rect x="1244.0" y="0" width="1" height="572" fill="#bebebe"/>
<rect x="1318.0" y="0" width="1" height="572" fill="#bebebe"/>
<rect x="1392.0" y="0" width="1" height="572" fill="#bebebe"/>
<rect x="1465.5" y="0" width="1" height="572" fill="#bebebe"/>
<rect x="1539.5" y="0" width="1" height="572" fill="#bebebe"/>
<rect x="388.2" y="0" width="1.2" height="572" fill="#c6cbe2"/>
<rect x="0" y="68.05" width="1600" height="1.3" fill="#d9d9d9"/>
<rect x="0" y="108.75" width="1600" height="1.3" fill="#d9d9d9"/>
<rect x="0" y="148.95" width="1600" height="1.3" fill="#d9d9d9"/>
<rect x="0" y="189.35" width="1600" height="1.3" fill="#d9d9d9"/>
<rect x="0" y="229.75" width="1600" height="1.3" fill="#d9d9d9"/>
<rect x="0" y="270.15" width="1600" height="1.3" fill="#d9d9d9"/>
<rect x="0" y="310.55" width="1600" height="1.3" fill="#d9d9d9"/>
<rect x="0" y="351.05" width="1600" height="1.3" fill="#d9d9d9"/>
<rect x="0" y="419.55" width="1600" height="1.3" fill="#d9d9d9"/>
<rect x="0" y="488.65" width="1600" height="1.3" fill="#d9d9d9"/>
<rect x="0" y="529.15" width="1600" height="1.3" fill="#d9d9d9"/>
<rect x="0" y="569.55" width="1600" height="1.3" fill="#d9d9d9"/>
</svg>
</div>
<div class="a" style="left:0;top:781.5px;width:388.6px;height:40px;background:#ffe263;"></div>
<div class="t" style="left:16.20px;top:315.02px;font-size:21.59px;line-height:21.59px;color:#3d4b5e;transform:scaleX(0.8144);">GenerateBids</div>
<div class="t" style="left:16.20px;top:370.02px;font-size:21.59px;line-height:21.59px;color:#3d4b5e;transform:scaleX(0.8317);">GetAdSelectionLogic</div>
<div class="t" style="left:16.20px;top:410.62px;font-size:21.59px;line-height:21.59px;color:#3d4b5e;transform:scaleX(0.8261);">GetBuyerDecisionLogic</div>
<div class="t" style="left:16.20px;top:451.12px;font-size:21.59px;line-height:21.59px;color:#3d4b5e;transform:scaleX(0.8289);">GetBuyersCustomAudience</div>
<div class="t" style="left:16.20px;top:491.52px;font-size:21.59px;line-height:21.59px;color:#3d4b5e;transform:scaleX(0.8316);">GetTrustedBiddingSignals</div>
<div class="t" style="left:16.20px;top:531.92px;font-size:21.59px;line-height:21.59px;color:#3d4b5e;transform:scaleX(0.8334);">GetTrustedScoringSignals</div>
<div class="t" style="left:16.20px;top:572.62px;font-size:21.59px;line-height:21.59px;color:#3d4b5e;transform:scaleX(0.8239);">PersistOnDeviceAdSelection</div>
<div class="t" style="left:16.20px;top:613.32px;font-size:21.59px;line-height:21.59px;color:#3d4b5e;transform:scaleX(0.8229);">RunAdScoring</div>
<div class="t" style="left:16.20px;top:666.52px;font-size:21.59px;line-height:21.59px;color:#3d4b5e;transform:scaleX(0.8206);">RunBidding</div>
<div class="t" style="left:16.20px;top:735.32px;font-size:21.59px;line-height:21.59px;color:#3d4b5e;transform:scaleX(0.8300);">RunBiddingPerCustomAudience</div>
<div class="t" style="left:16.20px;top:790.32px;font-size:21.59px;line-height:21.59px;color:#3d4b5e;transform:scaleX(0.8152);">RunOnDeviceAdSelection</div>
<div class="t" style="left:16.20px;top:830.72px;font-size:21.59px;line-height:21.59px;color:#3d4b5e;transform:scaleX(0.8120);">ScoreAd</div>
<div class="a" style="left:502.30px;top:299.00px;width:916.50px;height:27.60px;background:#f2a5cb;"></div>
<div class="a" style="left:506.80px;top:326.40px;width:911.00px;height:28.30px;background:#f2a5cb;"></div>
<div class="t" style="left:911.20px;top:301.57px;font-size:18.70px;line-height:18.70px;color:#333;transform:scaleX(0.8620);-webkit-text-stroke:0.35px #333;">GenerateBids</div>
<div class="t" style="left:913.20px;top:329.57px;font-size:18.70px;line-height:18.70px;color:#333;transform:scaleX(0.8620);-webkit-text-stroke:0.35px #333;">GenerateBids</div>
<div class="a" style="left:1427.60px;top:367.20px;width:7.90px;height:28.10px;background:#6cc04a;"></div>
<div class="a" style="left:495.50px;top:408.30px;width:6.50px;height:27.40px;background:#e0308a;"></div>
<div class="a" style="left:499.00px;top:408.30px;width:0.90px;height:27.40px;background:#f3a9cf;"></div>
<div class="a" style="left:471.00px;top:448.40px;width:7.20px;height:27.60px;background:#2a6374;"></div>
<div class="a" style="left:499.20px;top:489.00px;width:7.80px;height:27.70px;background:#3fa0a5;"></div>
<div class="a" style="left:502.40px;top:489.00px;width:0.90px;height:27.70px;background:#a8d8da;"></div>
<div class="a" style="left:1436.30px;top:529.70px;width:1.50px;height:27.60px;background:#b5853d;"></div>
<div class="a" style="left:1485.80px;top:570.30px;width:8.60px;height:27.70px;background:#e83e8c;"></div>
<div class="a" style="left:1427.60px;top:610.90px;width:54.90px;height:27.30px;background:#3d8f8f;"></div>
<div class="t" style="left:1431.40px;top:613.67px;font-size:18.70px;line-height:18.70px;color:#fff;transform:scaleX(0.7253);-webkit-text-stroke:0.35px #fff;">RunA…</div>
<div class="a" style="left:500.10px;top:650.80px;width:918.80px;height:28.00px;background:#3d4fd8;"></div>
<div class="a" style="left:503.30px;top:678.60px;width:915.60px;height:28.10px;background:#3d4fd8;"></div>
<div class="t" style="left:917.79px;top:653.87px;font-size:18.70px;line-height:18.70px;color:#fff;transform:scaleX(0.8620);-webkit-text-stroke:0.35px #fff;">RunBidding</div>
<div class="t" style="left:919.09px;top:681.57px;font-size:18.70px;line-height:18.70px;color:#fff;transform:scaleX(0.8620);-webkit-text-stroke:0.35px #fff;">RunBidding</div>
<div class="a" style="left:496.60px;top:719.60px;width:928.20px;height:27.50px;background:#96492a;"></div>
<div class="a" style="left:500.40px;top:746.90px;width:924.40px;height:28.10px;background:#96492a;"></div>
<div class="t" style="left:843.14px;top:722.37px;font-size:18.70px;line-height:18.70px;color:#fff;transform:scaleX(0.8730);-webkit-text-stroke:0.35px #fff;">RunBiddingPerCustomAudience</div>
<div class="t" style="left:845.14px;top:750.17px;font-size:18.70px;line-height:18.70px;color:#fff;transform:scaleX(0.8730);-webkit-text-stroke:0.35px #fff;">RunBiddingPerCustomAudience</div>
<div class="a" style="left:453.70px;top:783.60px;width:1045.90px;height:36.40px;background:#0d0500;"></div>
<div class="a" style="left:454.90px;top:784.80px;width:1043.50px;height:34.00px;background:#2b1c06;"></div>
<div class="a" style="left:458.10px;top:787.90px;width:1037.10px;height:28.10px;background:#5a431c;"></div>
<div class="t" style="left:882.98px;top:790.87px;font-size:18.70px;line-height:18.70px;color:#fff;transform:scaleX(0.8620);-webkit-text-stroke:0.35px #fff;">RunOnDeviceAdSelection</div>
<div class="a" style="left:1437.80px;top:828.90px;width:43.20px;height:27.00px;background:#2b6478;"></div>
<div class="t" style="left:1444.60px;top:830.97px;font-size:18.70px;line-height:18.70px;color:#fff;transform:scaleX(0.7089);-webkit-text-stroke:0.35px #fff;">Sc…</div>
<div class="a" style="left:0;top:861.2px;width:1600px;height:2px;background:#e2e5e5;"></div>
</body></html>
